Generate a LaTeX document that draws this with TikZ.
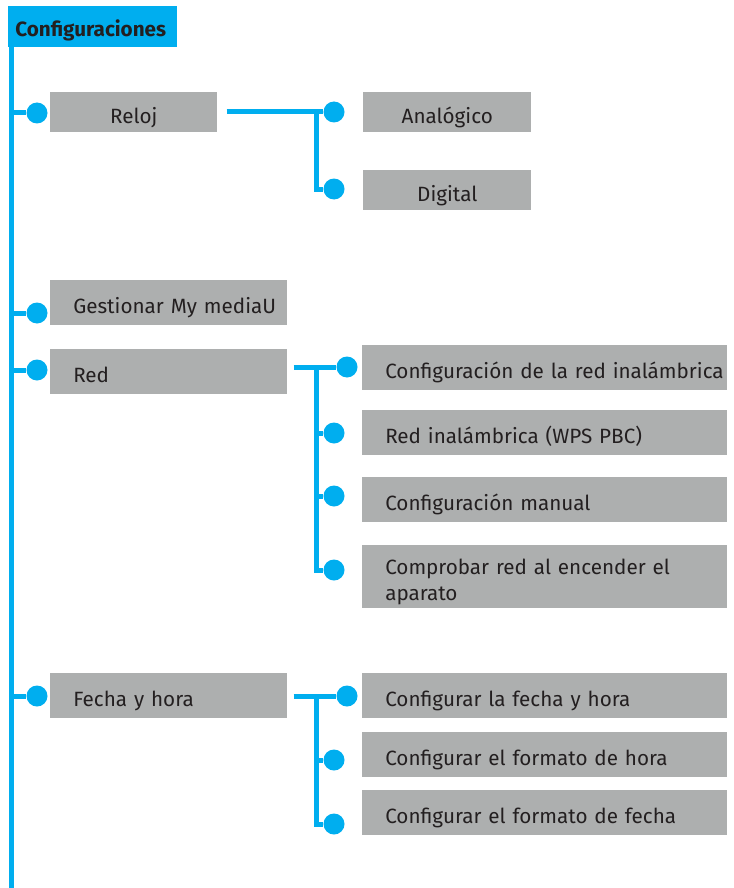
\documentclass[tikz,border=0pt]{standalone}
\usepackage{fontspec}
\setmainfont{Fira Sans}
\definecolor{menublue}{HTML}{00AEEF}
\definecolor{menugray}{HTML}{ADAFAF}
\definecolor{menutext}{HTML}{231F20}
\usetikzlibrary{positioning}

\begin{document}
\begin{tikzpicture}[x=0.75pt, y=-0.75pt,
    every node/.style={text=menutext, font=\fontsize{15.5}{20}\selectfont},
    head/.style={fill=menublue, anchor=north west, minimum width=126.75pt,
      minimum height=30.75pt, inner sep=0pt, text width=126.75pt,
      text height=15pt, text depth=0pt,
      font=\bfseries\fontsize{15.5}{18}\selectfont},
    smallbox/.style={fill=menugray, anchor=north west, minimum width=125.25pt,
      minimum height=30pt, inner sep=0pt, align=center,
      text height=16.5pt, text depth=0pt},
    midbox/.style={fill=menugray, anchor=north west, minimum height=33.75pt,
      inner sep=0pt, text width=177.75pt, align=left,
      text height=16.5pt, text depth=0pt},
    widebox/.style={fill=menugray, anchor=north west, minimum height=33.75pt,
      inner sep=0pt, text width=273.75pt, align=left,
      text height=16.5pt, text depth=0pt},
    dot/.style={circle, fill=menublue, minimum size=15.75pt, inner sep=0pt},
    edge/.style={draw=menublue, line width=3.75pt, line join=miter}]

  \useasboundingbox (0,0) rectangle (734,888);

  % header and trunk
  \node[head] (conf) at (8,6) {\hspace*{5.25pt}Configuraciones};
  \coordinate (trunk) at (11.5,47);
  \coordinate (trunkend) at (11.5,888);

  % first level
  \node[smallbox] (reloj) at (50,92) {Reloj};
  \node[midbox] (gest) at (50,280) {\hspace*{17.25pt}Gestionar My mediaU};
  \node[midbox] (red) at (50,349) {\hspace*{17.25pt}Red};
  \node[midbox] (fecha) at (50,673) {\hspace*{17.25pt}Fecha y hora};

  \node[dot] (dreloj) at (37,113) {};
  \node[dot] (dgest)  at (37,313) {};
  \node[dot] (dred)   at (37,370) {};
  \node[dot] (dfecha) at (37,696) {};

  % Reloj
  \node[smallbox, minimum width=126pt] (analog) at (363,92) {Analógico};
  \node[smallbox, minimum width=126pt] (digital) at (363,170) {Digital};
  \node[dot] (danalog)  at (334,112) {};
  \node[dot] (ddigital) at (334,189) {};
  \coordinate (jreloj) at (316,112);

  % Red
  \node[widebox] (red1) at (362,345)
    {\hspace*{17.25pt}Configuración de la red inalámbrica};
  \node[widebox] (red2) at (362,410)
    {\hspace*{17.25pt}Red inalámbrica (WPS PBC)};
  \node[widebox] (red3) at (362,477)
    {\hspace*{17.25pt}Configuración manual};
  \node[widebox, minimum height=47.25pt, text height=14pt, text depth=18pt] (red4) at (362,545)
    {\hspace*{17.25pt}Comprobar red al encender el\\\hspace*{17.25pt}aparato};
  \node[dot] (dred1) at (347,367) {};
  \node[dot] (dred2) at (334,433) {};
  \node[dot] (dred3) at (334,496) {};
  \node[dot] (dred4) at (334,570) {};
  \coordinate (jred) at (316,367);

  % Fecha y hora
  \node[widebox] (fecha1) at (362,673)
    {\hspace*{17.25pt}Configurar la fecha y hora};
  \node[widebox] (fecha2) at (362,732)
    {\hspace*{17.25pt}Configurar el formato de hora};
  \node[widebox] (fecha3) at (362,790)
    {\hspace*{17.25pt}Configurar el formato de fecha};
  \node[dot] (dfecha1) at (347,696) {};
  \node[dot] (dfecha2) at (334,760) {};
  \node[dot] (dfecha3) at (334,824) {};
  \coordinate (jfecha) at (316,696);

  \draw[edge] (trunk) -- (trunkend);
  \draw[edge] (dreloj -| trunk) -- (dreloj);
  \draw[edge] (dgest -| trunk) -- (dgest);
  \draw[edge] (dred -| trunk) -- (dred);
  \draw[edge] (dfecha -| trunk) -- (dfecha);

  \draw[edge] ([xshift=6.75pt]reloj.east |- danalog) -- (danalog);
  \draw[edge] (jreloj) |- (ddigital);

  \draw[edge] ([xshift=4.5pt]red.east |- dred1) -- (dred1);
  \draw[edge] (jred |- dred2) -- (dred2);
  \draw[edge] (jred |- dred3) -- (dred3);
  \draw[edge] (jred) |- (dred4);

  \draw[edge] ([xshift=4.5pt]fecha.east |- dfecha1) -- (dfecha1);
  \draw[edge] (jfecha |- dfecha2) -- (dfecha2);
  \draw[edge] (jfecha) |- (dfecha3);
\end{tikzpicture}
\end{document}
